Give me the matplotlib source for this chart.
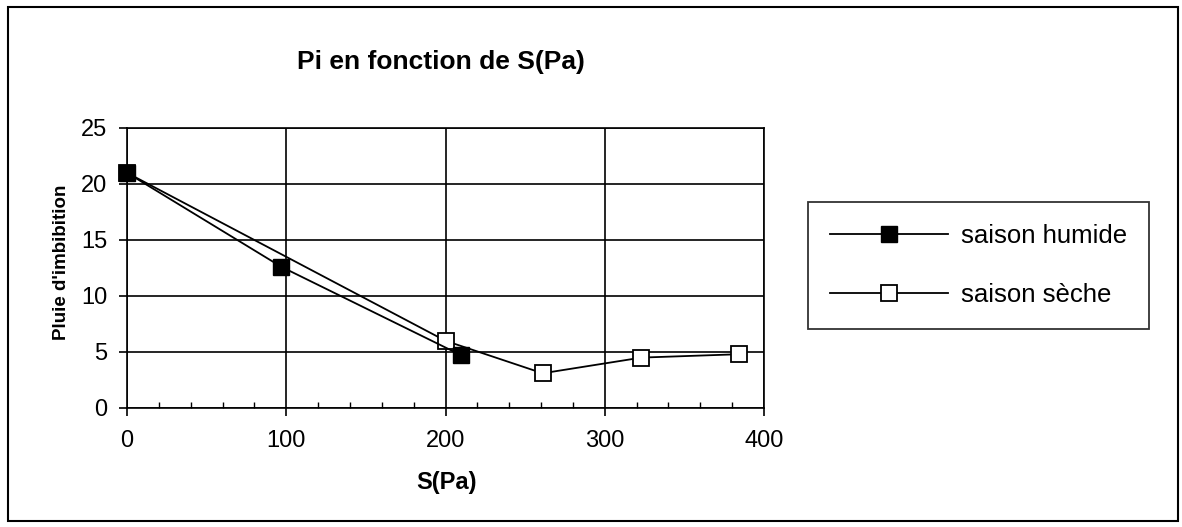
import matplotlib
matplotlib.use("Agg")
import matplotlib.pyplot as plt
from matplotlib.patches import Rectangle
from matplotlib.ticker import MultipleLocator

plt.rcParams['font.family'] = ['Liberation Sans', 'DejaVu Sans']

# Data
x_humide = [0, 97, 210]
y_humide = [21.0, 12.6, 4.7]
x_seche = [0, 200, 261, 323, 384]
y_seche = [21.0, 6.0, 3.1, 4.5, 4.8]

title = "Pi en fonction de S(Pa)"
xlabel = "S(Pa)"
ylabel = "Pluie d'imbibition"
labels = ["saison humide", "saison sèche"]

W, H = 1182, 527
fig = plt.figure(figsize=(W / 100, H / 100), dpi=100)
ax = fig.add_axes([127 / W, 1 - 408 / H, (764 - 127) / W, (408 - 128) / H])

ax.plot(x_seche, y_seche, color='black', lw=1.3, marker='s', ms=11,
        mfc='white', mec='black', mew=1.3, label=labels[1], zorder=3, clip_on=False)
ax.plot(x_humide, y_humide, color='black', lw=1.3, marker='s', ms=11,
        mfc='black', mec='black', label=labels[0], zorder=4, clip_on=False)

ax.set_xlim(0, 400)
ax.set_ylim(0, 25)
ax.xaxis.set_major_locator(MultipleLocator(100))
ax.xaxis.set_minor_locator(MultipleLocator(20))
ax.yaxis.set_major_locator(MultipleLocator(5))
ax.grid(True, which='major', color='black', lw=1.2)
ax.set_axisbelow(True)
for s in ax.spines.values():
    s.set_color('black')
    s.set_linewidth(1.2)
ax.tick_params(axis='x', which='major', direction='out', length=6, width=1.2, labelsize=17, pad=10)
ax.tick_params(axis='x', which='minor', direction='in', length=4, width=1.0)
ax.tick_params(axis='y', which='major', direction='out', length=6, width=1.2, labelsize=17, pad=8)

fig.text(441 / W, 1 - 62 / H, title, fontsize=19, fontweight='bold', ha='center', va='center')
fig.text(447 / W, 1 - 482 / H, xlabel, fontsize=17, fontweight='bold', ha='center', va='center')
fig.text(62 / W, 1 - 262 / H, ylabel, fontsize=13.5, fontweight='bold', ha='center', va='center',
         rotation=90)

handles, labs = ax.get_legend_handles_labels()
order = [1, 0]
leg = fig.legend([handles[i] for i in order], [labs[i] for i in order],
                 loc='center left', bbox_to_anchor=(808 / W, 1 - 265.5 / H),
                 fontsize=18.5, frameon=True, fancybox=False, edgecolor='black',
                 handlelength=4.6, handletextpad=0.5, labelspacing=1.35,
                 borderpad=0.85, borderaxespad=0)
leg.get_frame().set_linewidth(1.3)

fig.patches.append(Rectangle((8 / W, 6 / H), 1170 / W, 514 / H, transform=fig.transFigure,
                             fill=False, edgecolor='black', lw=1.5))

fig.savefig("out.png", dpi=100)
